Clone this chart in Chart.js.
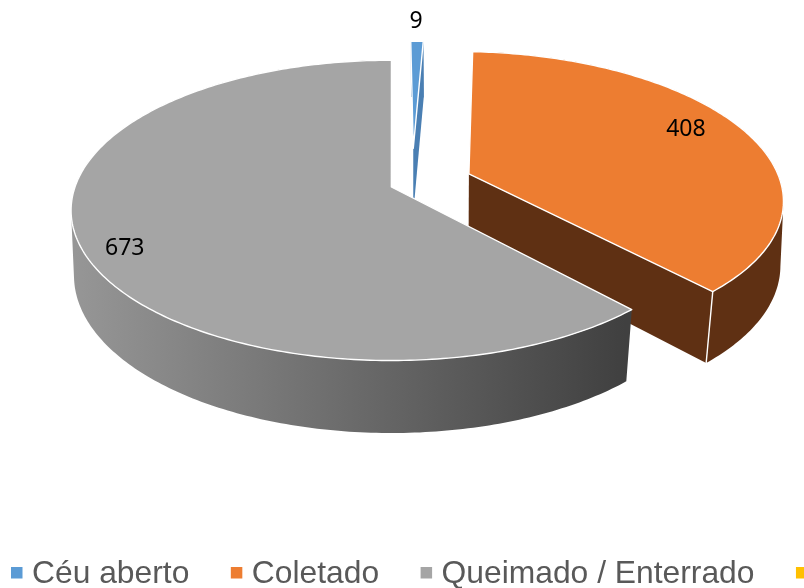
<!DOCTYPE html>
<html><head><meta charset="utf-8">
<style>html,body{margin:0;padding:0;background:#fff;overflow:hidden}canvas{display:block}</style>
<script src="https://cdn.jsdelivr.net/npm/chart.js@4"></script>
</head><body>
<canvas id="c" width="804" height="588"></canvas>
<script>
const categories = ['Céu aberto', 'Coletado', 'Queimado / Enterrado', ''];
const values = [9, 408, 673, 0];
const topColors = ['#5b9bd5', '#ed7d31', '#a5a5a5', '#ffc000'];
const wallColors = ['#4a7fb3', '#5f3013', null, null];
const explode = [{du:0.07,dv:-0.275,r:0.9},{du:0.246,dv:-0.09,r:0.988},{du:-0.002,dv:0,r:0.998},{du:0,dv:0,r:1}];
const labelAnchors = [{u:0.092,v:-1.373},{u:0.988,v:-0.421},{u:-0.791,v:0.395},null];
const view = {cx:392, cy:187, a:317, b:146.8, k:0.156, m0:0.006, m1:0.02, c:67.6};

function project(u, v, z) {
  const w = 1 - view.k * v + (view.m0 + view.m1 * v) * z;
  return {x: view.cx + view.a * u / w, y: view.cy + (view.b * v + view.c * z) / w};
}
function arcPts(ex, a0, a1, z) {
  const n = Math.max(2, Math.ceil((a1 - a0) / 0.015)), pts = [];
  for (let i = 0; i <= n; i++) {
    const t = a0 + (a1 - a0) * i / n;
    pts.push(project(ex.du + ex.r * Math.cos(t), ex.dv + ex.r * Math.sin(t), z));
  }
  return pts;
}
function poly(ctx, pts) {
  ctx.beginPath();
  pts.forEach((p, i) => i ? ctx.lineTo(p.x, p.y) : ctx.moveTo(p.x, p.y));
  ctx.closePath();
}
// outer wall: the union of the quads swept between the upper and lower rim
function sweep(ctx, top, low) {
  ctx.beginPath();
  for (let i = 0; i + 1 < top.length; i++) {
    const q = [top[i], top[i + 1], low[i + 1], low[i]];
    let area = 0;
    q.forEach((p, j) => { const n = q[(j + 1) % 4]; area += p.x * n.y - n.x * p.y; });
    if (area < 0) q.reverse();
    q.forEach((p, j) => j ? ctx.lineTo(p.x, p.y) : ctx.moveTo(p.x, p.y));
    ctx.closePath();
  }
}
const pie3d = {
  id: 'pie3d',
  beforeDatasetsDraw(chart) {
    const ctx = chart.ctx, arcs = chart.getDatasetMeta(0).data;
    ctx.save();
    ctx.lineJoin = 'round';
    const grad = ctx.createLinearGradient(75, 0, 625, 0);
    grad.addColorStop(0, '#969696');
    grad.addColorStop(1, '#404040');
    arcs.forEach((arc, i) => {
      const p = arc.getProps(['startAngle', 'endAngle']);
      if (p.endAngle - p.startAngle <= 0) return;
      const ex = explode[i];
      const top = arcPts(ex, p.startAngle, p.endAngle, 0);
      const low = arcPts(ex, p.startAngle, p.endAngle, 1);
      const apexT = project(ex.du, ex.dv, 0), apexL = project(ex.du, ex.dv, 1);
      const wall = wallColors[i] || grad;
      ctx.fillStyle = wall;
      sweep(ctx, top, low); ctx.fill();
      const eT = top[top.length - 1], eL = low[low.length - 1];
      poly(ctx, [apexT, eT, eL, apexL]); ctx.fill();
      if (i === 1) {
        ctx.strokeStyle = '#fff'; ctx.lineWidth = 1.4;
        ctx.beginPath(); ctx.moveTo(eT.x, eT.y); ctx.lineTo(eL.x, eL.y); ctx.stroke();
      }
      poly(ctx, [apexT].concat(top));
      ctx.fillStyle = arc.options.backgroundColor; ctx.fill();
      ctx.strokeStyle = '#fff'; ctx.lineWidth = 1.4; ctx.stroke();
    });
    // value labels
    ctx.fillStyle = '#000';
    ctx.font = '23px "Noto Sans"';
    ctx.textAlign = 'center'; ctx.textBaseline = 'middle';
    values.forEach((v, i) => {
      if (!labelAnchors[i]) return;
      const q = project(labelAnchors[i].u, labelAnchors[i].v, 0);
      ctx.fillText(String(v), q.x, q.y);
    });
    // legend
    ctx.font = '31.8px "Liberation Sans"';
    ctx.textAlign = 'left'; ctx.textBaseline = 'alphabetic';
    let x = 11;
    categories.forEach((name, i) => {
      ctx.fillStyle = topColors[i];
      ctx.fillRect(x, 567, 11.5, 11.5);
      ctx.fillStyle = '#595959';
      if (name) ctx.fillText(name, x + 21, 583);
      x += 21 + ctx.measureText(name).width + 41.5;
    });
    ctx.restore();
    return false;
  }
};
new Chart(document.getElementById('c'), {
  type: 'pie',
  data: {labels: categories, datasets: [{data: values, backgroundColor: topColors, borderWidth: 0}]},
  options: {
    responsive: false, animation: false,
    plugins: {legend: {display: false}, tooltip: {enabled: false}}
  },
  plugins: [pie3d]
});
</script>
</body></html>
